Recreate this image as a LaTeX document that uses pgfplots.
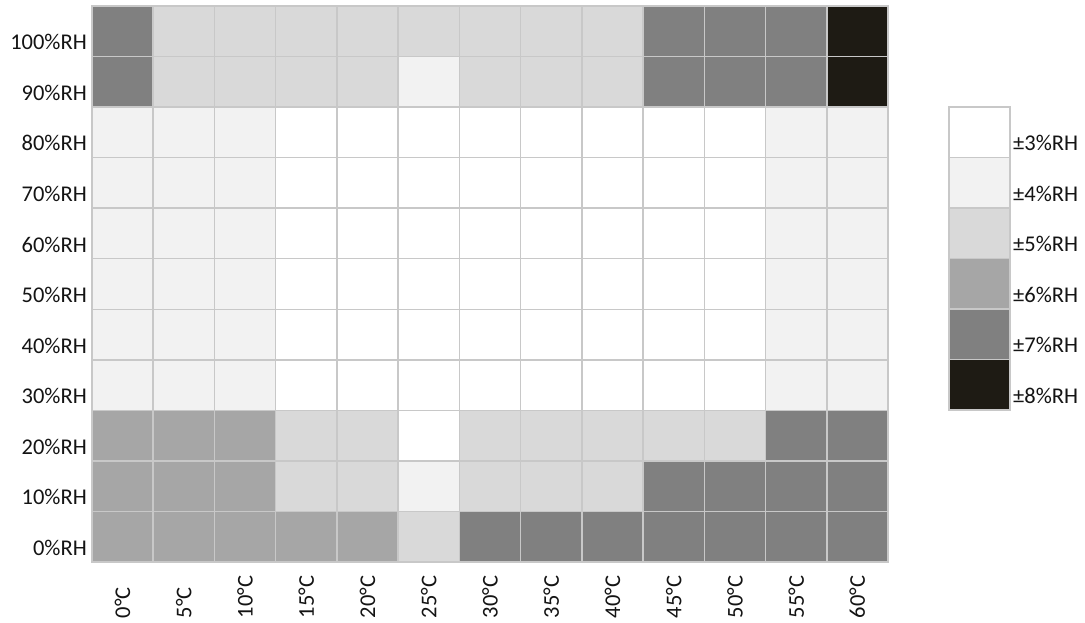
\documentclass[border=0pt]{standalone}
\usepackage{fontspec}
\setmainfont{Carlito}
\usepackage{pgfplots}
\usepackage{pgfplotstable}
\pgfplotsset{compat=1.18}
\definecolor{gridcol}{RGB}{200,200,200}
\definecolor{labcol}{RGB}{20,20,20}
% rows: y=0 (0%RH) ... y=10 (100%RH); columns x=0 (0°C) ... x=12 (60°C)
% c = colour index: 0=±3, 1=±4, 2=±5, 3=±6, 4=±7, 5=±8 %RH
\pgfplotstableread{
x y c
0 0 3
1 0 3
2 0 3
3 0 3
4 0 3
5 0 2
6 0 4
7 0 4
8 0 4
9 0 4
10 0 4
11 0 4
12 0 4
0 1 3
1 1 3
2 1 3
3 1 2
4 1 2
5 1 1
6 1 2
7 1 2
8 1 2
9 1 4
10 1 4
11 1 4
12 1 4
0 2 3
1 2 3
2 2 3
3 2 2
4 2 2
5 2 0
6 2 2
7 2 2
8 2 2
9 2 2
10 2 2
11 2 4
12 2 4
0 3 1
1 3 1
2 3 1
3 3 0
4 3 0
5 3 0
6 3 0
7 3 0
8 3 0
9 3 0
10 3 0
11 3 1
12 3 1
0 4 1
1 4 1
2 4 1
3 4 0
4 4 0
5 4 0
6 4 0
7 4 0
8 4 0
9 4 0
10 4 0
11 4 1
12 4 1
0 5 1
1 5 1
2 5 1
3 5 0
4 5 0
5 5 0
6 5 0
7 5 0
8 5 0
9 5 0
10 5 0
11 5 1
12 5 1
0 6 1
1 6 1
2 6 1
3 6 0
4 6 0
5 6 0
6 6 0
7 6 0
8 6 0
9 6 0
10 6 0
11 6 1
12 6 1
0 7 1
1 7 1
2 7 1
3 7 0
4 7 0
5 7 0
6 7 0
7 7 0
8 7 0
9 7 0
10 7 0
11 7 1
12 7 1
0 8 1
1 8 1
2 8 1
3 8 0
4 8 0
5 8 0
6 8 0
7 8 0
8 8 0
9 8 0
10 8 0
11 8 1
12 8 1
0 9 4
1 9 2
2 9 2
3 9 2
4 9 2
5 9 1
6 9 2
7 9 2
8 9 2
9 9 4
10 9 4
11 9 4
12 9 5
0 10 4
1 10 2
2 10 2
3 10 2
4 10 2
5 10 2
6 10 2
7 10 2
8 10 2
9 10 4
10 10 4
11 10 4
12 10 5
}\maindata
\pgfplotstableread{
x y c
0 0 5
1 0 5
0 1 4
1 1 4
0 2 3
1 2 3
0 3 2
1 3 2
0 4 1
1 4 1
0 5 0
1 5 0
}\keydata
\pgfplotsset{
  heat/.style={
    colormap={cm}{rgb255=(255,255,255) rgb255=(242,242,242) rgb255=(217,217,217) rgb255=(166,166,166) rgb255=(128,128,128) rgb255=(30,27,20)},
    colormap access=direct,
    scale only axis,
    axis on top,
    axis line style={draw=gridcol, line width=1.5pt},
    major tick length=0pt,
    minor tick length=0pt,
    minor grid style={draw=gridcol, line width=1.5pt},
    tick label style={font=\fontsize{22.5}{27}\selectfont, text=labcol},
    xminorgrids, yminorgrids,
  }
}
\begin{document}
\begin{tikzpicture}
\path[use as bounding box] (0pt,0pt) rectangle (1085pt,623pt);
\begin{axis}[heat,
  at={(92pt,61pt)}, anchor=south west,
  width=796pt, height=556pt,
  xmin=-0.5, xmax=12.5, ymin=-0.5, ymax=10.5,
  xtick={0,...,12},
  minor xtick={0.5,1.5,...,11.5},
  ytick={0,...,10},
  minor ytick={0.5,1.5,...,9.5},
  xticklabels={\makebox[56pt][l]{0°C},\makebox[56pt][l]{5°C},\makebox[56pt][l]{10°C},\makebox[56pt][l]{15°C},\makebox[56pt][l]{20°C},\makebox[56pt][l]{25°C},\makebox[56pt][l]{30°C},\makebox[56pt][l]{35°C},\makebox[56pt][l]{40°C},\makebox[56pt][l]{45°C},\makebox[56pt][l]{50°C},\makebox[56pt][l]{55°C},\makebox[56pt][l]{60°C}},
  xticklabel style={rotate=90, anchor=east, inner sep=0pt},
  yticklabels={0\%RH,10\%RH,20\%RH,30\%RH,40\%RH,50\%RH,60\%RH,70\%RH,80\%RH,90\%RH,100\%RH},
  yticklabel style={anchor=east, inner sep=0pt, xshift=-5pt, yshift=-11pt},
]
\addplot[matrix plot*, mesh/cols=13, point meta=explicit, draw=none] table[x=x, y=y, meta=c] {\maindata};
\end{axis}
\begin{axis}[heat,
  at={(949pt,213pt)}, anchor=south west,
  width=61pt, height=303pt,
  xmin=-0.5, xmax=0.5, ymin=-0.5, ymax=5.5,
  xtick=\empty,
  ytick={0,...,5},
  minor ytick={0.5,1.5,...,4.5},
  yticklabel pos=right,
  yticklabels={±8\%RH,±7\%RH,±6\%RH,±5\%RH,±4\%RH,±3\%RH},
  yticklabel style={anchor=west, inner sep=0pt, xshift=3pt, yshift=-11pt},
]
\addplot[matrix plot*, mesh/cols=2, point meta=explicit, draw=none] table[x=x, y=y, meta=c] {\keydata};
\end{axis}
\end{tikzpicture}
\end{document}
